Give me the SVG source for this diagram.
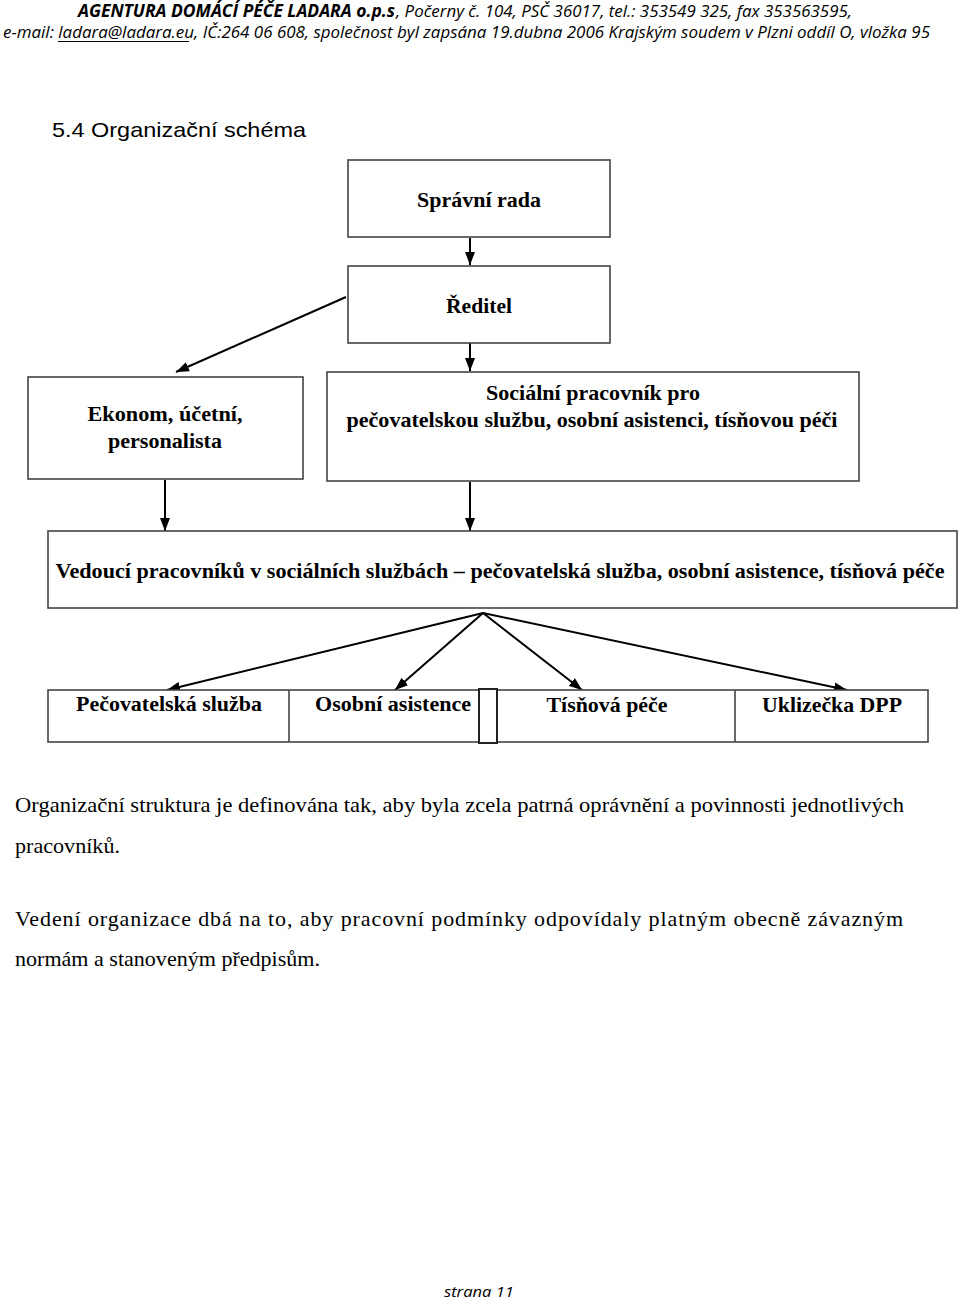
<svg xmlns="http://www.w3.org/2000/svg" width="960" height="1300" viewBox="0 0 960 1300">
<style>
.box{fill:#fff;stroke:#444;stroke-width:1.6}
.nt{font-family:"Liberation Serif","Times New Roman",serif;font-weight:bold;font-size:21px;fill:#000;text-anchor:middle}
.body{font-family:"Liberation Serif","Times New Roman",serif;font-size:22px;fill:#000}
.hdr{font-family:"Open Sans","Liberation Sans",sans-serif;font-style:italic;font-size:17px;fill:#000}
.conn{stroke:#000;stroke-width:2;fill:none;marker-end:url(#ah)}
</style>
<defs>
<marker id="ah" viewBox="0 0 13 10" refX="13" refY="5" markerWidth="13" markerHeight="10" markerUnits="userSpaceOnUse" orient="auto">
<path d="M0,0 L13,5 L0,10 Z" fill="#000"/>
</marker>
</defs>
<rect width="960" height="1300" fill="#fff"/>

<g id="header">
<text class="hdr" x="78" y="17" font-weight="bold" textLength="317" lengthAdjust="spacingAndGlyphs">AGENTURA DOMÁCÍ  PÉČE  LADARA o.p.s</text>
<text class="hdr" x="396" y="17" textLength="456" lengthAdjust="spacingAndGlyphs">, Počerny č. 104, PSČ 36017, tel.: 353549 325, fax 353563595,</text>
<text class="hdr" x="3" y="38" textLength="927" lengthAdjust="spacingAndGlyphs">e-mail: ladara@ladara.eu, IČ:264 06 608, společnost byl zapsána 19.dubna 2006 Krajským soudem  v Plzni oddíl O, vložka 95</text>
<line x1="58" y1="41.5" x2="189" y2="41.5" stroke="#000" stroke-width="1"/>
</g>

<text id="title" x="52" y="137" font-family="Liberation Sans, Arial, sans-serif" font-size="21" textLength="254" lengthAdjust="spacingAndGlyphs">5.4 Organizační schéma</text>

<g id="connectors">
<line class="conn" x1="470" y1="238" x2="470" y2="265"/>
<line class="conn" x1="346" y1="297" x2="176" y2="372"/>
<line class="conn" x1="470" y1="343" x2="470" y2="371"/>
<line class="conn" x1="165" y1="480" x2="165" y2="531"/>
<line class="conn" x1="470" y1="482" x2="470" y2="531"/>
<line class="conn" x1="483" y1="613" x2="167" y2="690"/>
<line class="conn" x1="483" y1="613" x2="395" y2="690"/>
<line class="conn" x1="483" y1="613" x2="582" y2="690"/>
<line class="conn" x1="483" y1="613" x2="847" y2="690"/>
</g>

<g id="spravni-rada">
<rect class="box" x="348" y="160" width="262" height="77"/>
<text class="nt" x="479" y="207" textLength="124" lengthAdjust="spacingAndGlyphs">Správní rada</text>
</g>

<g id="reditel">
<rect class="box" x="348" y="266" width="262" height="77"/>
<text class="nt" x="479" y="313" textLength="66" lengthAdjust="spacingAndGlyphs">Ředitel</text>
</g>

<g id="ekonom">
<rect class="box" x="28" y="377" width="275" height="102"/>
<text class="nt" x="165" y="421" textLength="155" lengthAdjust="spacingAndGlyphs">Ekonom, účetní,</text>
<text class="nt" x="165" y="448" textLength="114" lengthAdjust="spacingAndGlyphs">personalista</text>
</g>

<g id="socialni-pracovnik">
<rect class="box" x="327" y="372" width="532" height="109" stroke="#222" stroke-width="2"/>
<text class="nt" x="593" y="400" textLength="214" lengthAdjust="spacingAndGlyphs">Sociální pracovník pro</text>
<text class="nt" x="592" y="427" textLength="491" lengthAdjust="spacingAndGlyphs">pečovatelskou službu, osobní asistenci, tísňovou péči</text>
</g>

<g id="vedouci">
<rect class="box" x="48" y="531" width="909" height="77"/>
<text class="nt" x="500" y="578" textLength="889" lengthAdjust="spacingAndGlyphs">Vedoucí pracovníků v sociálních službách – pečovatelská služba, osobní asistence, tísňová péče</text>
</g>

<g id="bottom-row">
<rect class="box" x="48" y="690" width="880" height="52"/>
<line x1="289" y1="690" x2="289" y2="742" stroke="#444" stroke-width="1.6"/>
<line x1="735" y1="690" x2="735" y2="742" stroke="#444" stroke-width="1.6"/>
<rect x="479" y="689" width="18" height="54" fill="#fff" stroke="#222" stroke-width="2"/>
</g>
<g id="pecovatelska-sluzba">
<text class="nt" x="169" y="711" textLength="186" lengthAdjust="spacingAndGlyphs">Pečovatelská služba</text>
</g>
<g id="osobni-asistence">
<text class="nt" x="393" y="711" textLength="156" lengthAdjust="spacingAndGlyphs">Osobní asistence</text>
</g>
<g id="tisnova-pece">
<text class="nt" x="607" y="712" textLength="121" lengthAdjust="spacingAndGlyphs">Tísňová péče</text>
</g>
<g id="uklizecka">
<text class="nt" x="832" y="712" textLength="140" lengthAdjust="spacingAndGlyphs">Uklizečka DPP</text>
</g>

<g id="paragraphs">
<text class="body" x="15" y="812" textLength="889" lengthAdjust="spacingAndGlyphs">Organizační struktura je definována tak, aby byla zcela patrná oprávnění a povinnosti jednotlivých</text>
<text class="body" x="15" y="853" textLength="105" lengthAdjust="spacingAndGlyphs">pracovníků.</text>
<text class="body" x="15" y="926" textLength="888" lengthAdjust="spacing">Vedení organizace dbá na to, aby pracovní podmínky odpovídaly platným obecně závazným</text>
<text class="body" x="15" y="966" textLength="305" lengthAdjust="spacingAndGlyphs">normám a stanoveným předpisům.</text>
</g>

<text id="footer" x="444" y="1297" font-family="Open Sans, Liberation Sans, sans-serif" font-style="italic" font-size="15" textLength="70" lengthAdjust="spacingAndGlyphs">strana 11</text>
</svg>
